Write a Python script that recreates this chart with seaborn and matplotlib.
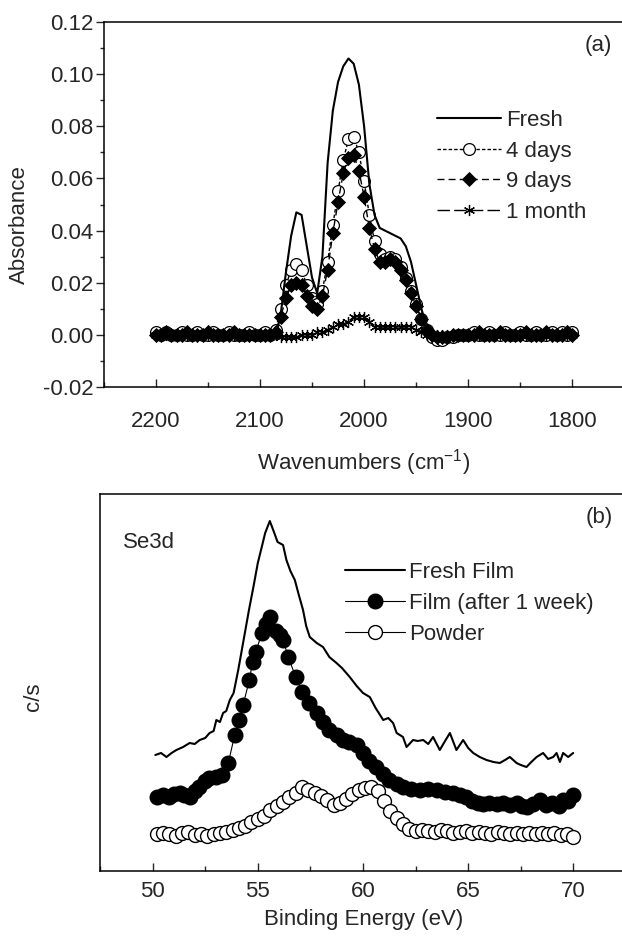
import numpy as np
import matplotlib
matplotlib.use("Agg")
import matplotlib.pyplot as plt
from matplotlib.ticker import MultipleLocator, FormatStrFormatter
import seaborn as sns

# ---------------- data: panel (a) ----------------
wavenumber = np.arange(2200, 1795, -5)  # sampling grid 2200 ... 1800

abs_fresh = [0.000, 0.000, 0.000, 0.000, 0.000, 0.000, 0.000, 0.000, 0.000, 0.000,
             0.000, 0.000, 0.000, 0.000, 0.000, 0.000, 0.000, 0.000, 0.000, 0.000,
             0.000, 0.000, 0.000, -0.001, 0.008, 0.024, 0.038, 0.047, 0.046, 0.034,
             0.022, 0.016, 0.030, 0.066, 0.086, 0.097, 0.103, 0.106, 0.104, 0.096,
             0.080, 0.058, 0.046, 0.041, 0.040, 0.039, 0.038, 0.037, 0.034, 0.028,
             0.019, 0.010, 0.003, -0.001, -0.002, -0.002, -0.001, -0.001, 0.000, 0.000,
             0.000, 0.000, 0.000, 0.000, 0.000, 0.000, 0.000, 0.000, 0.000, 0.000,
             0.000, 0.000, 0.000, 0.000, 0.000, 0.000, 0.000, 0.000, 0.000, 0.000, 0.000]

abs_4days = [0.001, 0.000, 0.001, 0.000, 0.000, 0.001, 0.000, 0.000, 0.001, 0.000,
             0.000, 0.001, 0.000, 0.000, 0.001, 0.000, 0.000, 0.000, 0.001, 0.000,
             0.000, 0.001, 0.000, 0.002, 0.010, 0.019, 0.025, 0.027, 0.025, 0.019,
             0.014, 0.012, 0.017, 0.028, 0.042, 0.055, 0.067, 0.075, 0.076, 0.070,
             0.059, 0.046, 0.036, 0.031, 0.029, 0.030, 0.029, 0.026, 0.022, 0.017,
             0.012, 0.006, 0.002, -0.001, -0.002, -0.002, -0.001, -0.001, 0.000, 0.000,
             0.000, 0.001, 0.000, 0.000, 0.001, 0.000, 0.000, 0.001, 0.000, 0.000,
             0.001, 0.000, 0.000, 0.001, 0.000, 0.000, 0.001, 0.000, 0.001, 0.000, 0.001]

abs_9days = [0.000, 0.000, 0.001, 0.000, 0.000, 0.000, 0.001, 0.000, 0.000, 0.000,
             0.001, 0.000, 0.000, 0.000, 0.000, 0.001, 0.000, 0.000, 0.000, 0.000,
             0.000, 0.000, 0.000, 0.001, 0.007, 0.014, 0.019, 0.020, 0.019, 0.015,
             0.011, 0.010, 0.015, 0.025, 0.039, 0.051, 0.062, 0.068, 0.069, 0.063,
             0.053, 0.041, 0.033, 0.028, 0.028, 0.029, 0.028, 0.025, 0.021, 0.016,
             0.011, 0.006, 0.002, 0.000, -0.001, -0.001, -0.001, 0.000, 0.000, 0.000,
             0.000, 0.000, 0.001, 0.000, 0.000, 0.000, 0.001, 0.000, 0.000, 0.000,
             0.000, 0.001, 0.000, 0.000, 0.000, 0.001, 0.000, 0.000, 0.000, 0.001, 0.000]

abs_1month = [0.000, 0.000, 0.000, 0.000, 0.000, 0.000, 0.000, 0.000, 0.000, 0.000,
              0.000, 0.000, 0.000, 0.000, 0.000, 0.000, 0.000, 0.000, 0.000, 0.000,
              0.000, 0.000, 0.000, 0.000, -0.001, -0.001, -0.001, -0.001, 0.000, 0.000,
              0.000, 0.001, 0.001, 0.002, 0.003, 0.004, 0.004, 0.005, 0.007, 0.007,
              0.007, 0.005, 0.003, 0.003, 0.003, 0.003, 0.003, 0.003, 0.003, 0.003,
              0.002, 0.001, 0.000, 0.000, 0.000, 0.000, 0.000, 0.000, 0.000, 0.000,
              0.000, 0.000, 0.000, 0.000, 0.000, 0.000, 0.000, 0.000, 0.000, 0.000,
              0.000, 0.000, 0.000, 0.000, 0.000, 0.000, 0.000, 0.000, 0.000, 0.000, 0.000]

labels_a = ["Fresh", "4 days", "9 days", "1 month"]

# ---------------- data: panel (b) ----------------
fresh_ev = [50.13, 50.4, 50.66, 50.9, 51.13, 51.45, 51.76, 52.0, 52.24, 52.5,
            52.71, 52.9, 53.03, 53.2, 53.35, 53.5, 53.67, 53.85, 54.07, 54.3,
            54.58, 54.8, 55.0, 55.2, 55.35, 55.57, 55.75, 55.94, 56.2, 56.36,
            56.55, 56.76, 56.95, 57.15, 57.3, 57.47, 57.8, 58.1, 58.4, 58.74,
            59.0, 59.37, 59.7, 60.0, 60.32, 60.6, 60.96, 61.2, 61.43, 61.6,
            61.9, 62.07, 62.38, 62.6, 62.86, 63.1, 63.33, 63.65, 63.9, 64.13,
            64.44, 64.76, 65.0, 65.24, 65.55, 65.87, 66.2, 66.5, 66.75, 66.98,
            67.3, 67.5, 67.77, 68.0, 68.25, 68.56, 68.8, 69.04, 69.2, 69.36,
            69.51, 69.75, 69.99]
fresh_cs = [116, 118, 114, 118, 121, 124, 128, 127, 131, 133,
            138, 140, 151, 149, 158, 160, 171, 178, 201, 228,
            261, 285, 308, 325, 338, 350, 340, 329, 326, 311,
            300, 291, 276, 261, 245, 234, 228, 224, 214, 208,
            203, 194, 185, 178, 174, 163, 151, 153, 148, 138,
            134, 124, 131, 130, 131, 127, 134, 121, 130, 138,
            121, 131, 123, 118, 114, 111, 109, 108, 111, 114,
            108, 106, 104, 109, 114, 118, 112, 114, 118, 109,
            118, 114, 118]

week_ev = [50.2, 50.5, 50.8, 51.0, 51.3, 51.5, 51.8, 52.0, 52.2, 52.5,
           52.7, 53.0, 53.3, 53.6, 53.9, 54.1, 54.3, 54.6, 54.75, 54.9,
           55.2, 55.4, 55.6, 55.85, 56.05, 56.2, 56.45, 56.8, 57.1, 57.45,
           57.8, 58.1, 58.4, 58.75, 59.05, 59.35, 59.7, 60.0, 60.3, 60.6,
           60.95, 61.25, 61.6, 61.9, 62.3, 62.7, 63.1, 63.5, 63.9, 64.3,
           64.6, 64.9, 65.2, 65.45, 65.7, 66.0, 66.35, 66.65, 67.0, 67.3,
           67.55, 67.8, 68.1, 68.4, 68.7, 69.0, 69.3, 69.5, 69.75, 70.0]
week_cs = [74, 76, 74, 77, 78, 76, 74, 80, 84, 90,
           93, 94, 96, 108, 136, 151, 166, 191, 209, 219,
           238, 247, 254, 240, 236, 231, 214, 194, 179, 168,
           158, 149, 141, 136, 131, 129, 126, 118, 110, 104,
           97, 91, 87, 84, 82, 81, 82, 81, 79, 78,
           76, 74, 70, 68, 67, 68, 67, 68, 66, 68,
           65, 64, 67, 71, 66, 68, 65, 71, 70, 76]

powder_ev = [50.2, 50.5, 50.8, 51.1, 51.4, 51.7, 52.0, 52.3, 52.6, 52.9,
             53.2, 53.5, 53.8, 54.1, 54.4, 54.7, 55.0, 55.3, 55.6, 55.9,
             56.2, 56.5, 56.8, 57.1, 57.4, 57.7, 58.0, 58.3, 58.6, 58.9,
             59.2, 59.5, 59.8, 60.1, 60.4, 60.7, 61.0, 61.3, 61.6, 61.9,
             62.2, 62.5, 62.8, 63.1, 63.4, 63.7, 64.0, 64.3, 64.6, 64.9,
             65.2, 65.5, 65.8, 66.1, 66.4, 66.7, 67.0, 67.3, 67.6, 67.9,
             68.2, 68.5, 68.8, 69.1, 69.4, 69.7, 70.0]
powder_cs = [37, 38, 37, 35, 38, 39, 36, 37, 35, 37,
             38, 39, 41, 43, 45, 49, 52, 55, 61, 65,
             69, 74, 78, 84, 81, 78, 75, 71, 66, 68,
             72, 77, 81, 83, 84, 80, 70, 60, 53, 47,
             42, 40, 41, 40, 39, 41, 40, 38, 39, 40,
             38, 39, 38, 37, 39, 38, 37, 38, 37, 38,
             37, 38, 37, 38, 36, 37, 34]

labels_b = ["Fresh Film", "Film (after 1 week)", "Powder"]

# ---------------- style ----------------
sns.set_theme(style="ticks")
plt.rcParams["font.family"] = ["Liberation Sans", "DejaVu Sans"]
plt.rcParams["mathtext.fontset"] = "custom"
plt.rcParams["mathtext.rm"] = "Liberation Sans"
plt.rcParams["mathtext.it"] = "Liberation Sans"
plt.rcParams["mathtext.default"] = "regular"
plt.rcParams["axes.unicode_minus"] = False
FS = 16

W, H = 622, 939
fig = plt.figure(figsize=(W / 100, H / 100), dpi=100)
fig.patch.set_facecolor("white")


def fbox(x0, y0, x1, y1):
    return [x0 / W, 1 - y1 / H, (x1 - x0) / W, (y1 - y0) / H]


ax1 = fig.add_axes(fbox(103.6, 22, 624.6, 387))
ax2 = fig.add_axes(fbox(100, 494, 626, 871))

# ---------------- panel (a) ----------------
sns.lineplot(x=wavenumber, y=abs_4days, ax=ax1, color="black", lw=1.0,
             linestyle=(0, (2.5, 1.5)), marker="o", markersize=8.5,
             markerfacecolor="white", markeredgecolor="black",
             markeredgewidth=0.9, label=labels_a[1], sort=False,
             estimator=None, zorder=2)
sns.lineplot(x=wavenumber, y=abs_9days, ax=ax1, color="black", lw=1.0,
             linestyle=(0, (5, 3)), marker="D", markersize=7.5,
             markerfacecolor="black", markeredgecolor="black",
             markeredgewidth=0.6, label=labels_a[2], sort=False,
             estimator=None, zorder=3)
sns.lineplot(x=wavenumber, y=abs_1month, ax=ax1, color="black", lw=1.0,
             linestyle=(0, (9, 3)), marker=(6, 2, 0), markersize=8,
             markeredgecolor="black", markeredgewidth=0.9,
             label=labels_a[3], sort=False, estimator=None, zorder=4)
sns.lineplot(x=wavenumber, y=abs_fresh, ax=ax1, color="black", lw=1.5,
             label=labels_a[0], sort=False, estimator=None, zorder=5)

ax1.set_xlim(2250, 1750)
ax1.set_ylim(-0.02, 0.12)
ax1.xaxis.set_major_locator(MultipleLocator(100))
ax1.xaxis.set_minor_locator(MultipleLocator(50))
ax1.yaxis.set_major_locator(MultipleLocator(0.02))
ax1.yaxis.set_minor_locator(MultipleLocator(0.01))
ax1.yaxis.set_major_formatter(FormatStrFormatter("%.2f"))
ax1.tick_params(axis="x", which="major", direction="in", length=6, width=1.0,
                pad=17, labelsize=FS, top=False)
ax1.tick_params(axis="x", which="minor", direction="in", length=3.5, width=1.0,
                top=False)
ax1.tick_params(axis="y", which="major", direction="out", length=6, width=1.0,
                pad=1.5, labelsize=FS, right=False)
ax1.tick_params(axis="y", which="minor", direction="out", length=3, width=1.0,
                right=False)
for s in ["left", "top", "bottom"]:
    ax1.spines[s].set_visible(True)
    ax1.spines[s].set_linewidth(1.1)
    ax1.spines[s].set_color("black")
ax1.spines["right"].set_visible(False)
ax1.set_facecolor("white")

ax1.set_xlabel(r"Wavenumbers (cm$^{-1}$)", fontsize=FS)
ax1.xaxis.set_label_coords((364 - 103.6) / 521.0, (387 - 463) / 365.0)
ax1.xaxis.label.set_va("center")
ax1.set_ylabel("Absorbance", fontsize=FS)
ax1.yaxis.set_label_coords((19 - 103.6) / 521.0, (387 - 225) / 365.0)
ax1.yaxis.label.set_va("center")

h1, l1 = ax1.get_legend_handles_labels()
order = [l1.index(n) for n in labels_a]
ax1.legend([h1[i] for i in order], [l1[i] for i in order],
           loc="upper left", bbox_to_anchor=(437 / W, 1 - 110 / H),
           bbox_transform=fig.transFigure, frameon=False, fontsize=FS,
           handlelength=2.9, handletextpad=0.2, labelspacing=0.43,
           borderpad=0, borderaxespad=0, numpoints=1)
ax1.text(598 / W, 1 - 46 / H, "(a)", transform=fig.transFigure,
         ha="center", va="center", fontsize=FS)

# ---------------- panel (b) ----------------
sns.lineplot(x=powder_ev, y=powder_cs, ax=ax2, color="black", lw=0.8,
             marker="o", markersize=10, markerfacecolor="white",
             markeredgecolor="black", markeredgewidth=1.0,
             label=labels_b[2], sort=False, estimator=None, zorder=2)
sns.lineplot(x=week_ev, y=week_cs, ax=ax2, color="black", lw=0.8,
             marker="o", markersize=10.5, markerfacecolor="black",
             markeredgecolor="black", markeredgewidth=1.0,
             label=labels_b[1], sort=False, estimator=None, zorder=3)
sns.lineplot(x=fresh_ev, y=fresh_cs, ax=ax2, color="black", lw=1.5,
             label=labels_b[0], sort=False, estimator=None, zorder=4)

ax2.set_xlim(47.5, 72.5)
ax2.set_ylim(0, 377)
ax2.xaxis.set_major_locator(MultipleLocator(5))
ax2.xaxis.set_minor_locator(MultipleLocator(2.5))
ax2.set_yticks([])
ax2.tick_params(axis="x", which="major", direction="in", length=6, width=1.0,
                pad=7, labelsize=FS, top=False)
ax2.tick_params(axis="x", which="minor", direction="in", length=3.5, width=1.0,
                top=False)
ax2.tick_params(axis="y", which="both", left=False, right=False)
for s in ["left", "top", "bottom"]:
    ax2.spines[s].set_visible(True)
    ax2.spines[s].set_linewidth(1.1)
    ax2.spines[s].set_color("black")
ax2.spines["right"].set_visible(False)
ax2.set_facecolor("white")

ax2.set_xlabel("Binding Energy (eV)", fontsize=FS)
ax2.xaxis.set_label_coords((364 - 100) / 526.0, (871 - 919) / 377.0)
ax2.xaxis.label.set_va("center")
ax2.set_ylabel("c/s", fontsize=FS)
ax2.yaxis.set_label_coords((33 - 100) / 526.0, (871 - 697) / 377.0)
ax2.yaxis.label.set_va("center")

h2, l2 = ax2.get_legend_handles_labels()
order = [l2.index(n) for n in labels_b]
ax2.legend([h2[i] for i in order], [l2[i] for i in order],
           loc="upper left", bbox_to_anchor=(345 / W, 1 - 562 / H),
           bbox_transform=fig.transFigure, frameon=False, fontsize=FS,
           handlelength=2.7, handletextpad=0.2, labelspacing=0.45,
           borderpad=0, borderaxespad=0, numpoints=1)
ax2.text(599 / W, 1 - 518 / H, "(b)", transform=fig.transFigure,
         ha="center", va="center", fontsize=FS)
ax2.text(123 / W, 1 - 543 / H, "Se3d", transform=fig.transFigure,
         ha="left", va="center", fontsize=FS)

fig.savefig("out.png", dpi=100, facecolor="white")
